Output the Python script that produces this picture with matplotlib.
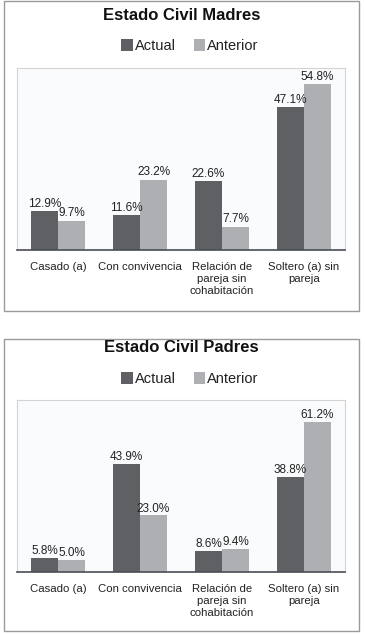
import matplotlib.pyplot as plt
from matplotlib.patches import Rectangle
import numpy as np

plt.rcParams['font.family'] = ['Liberation Sans', 'DejaVu Sans']

categorias = ['Casado (a)', 'Con convivencia', 'Relación de\npareja sin\ncohabitación',
              'Soltero (a) sin\npareja']
madres_actual = [12.9, 11.6, 22.6, 47.1]
madres_anterior = [9.7, 23.2, 7.7, 54.8]
padres_actual = [5.8, 43.9, 8.6, 38.8]
padres_anterior = [5.0, 23.0, 9.4, 61.2]

C_ACTUAL = '#5e6064'
C_ANTERIOR = '#adafb2'

W, H = 365, 634
fig = plt.figure(figsize=(W / 100, H / 100), dpi=100)


def px(x0, y0, x1, y1):
    # caja en pixeles (origen arriba-izquierda) -> fraccion de figura
    return [x0 / W, 1 - y1 / H, (x1 - x0) / W, (y1 - y0) / H]


def panel(box, plot, titulo, actual, anterior, ymax, title_y, leg_y):
    bx0, by0, bx1, by1 = box
    fig.patches.append(Rectangle((bx0 / W, 1 - by1 / H), (bx1 - bx0) / W, (by1 - by0) / H,
                                 transform=fig.transFigure, fill=False,
                                 edgecolor='#9a9a9a', linewidth=1.0))
    ax = fig.add_axes(px(*plot))
    ax.set_facecolor('#fafbfd')
    x = np.arange(len(categorias))
    w = 0.33
    b1 = ax.bar(x - w / 2, actual, w, color=C_ACTUAL, label='Actual')
    b2 = ax.bar(x + w / 2, anterior, w, color=C_ANTERIOR, label='Anterior')
    for bars in (b1, b2):
        for r in bars:
            ax.text(r.get_x() + r.get_width() / 2, r.get_height() + 0.4,
                    f'{r.get_height():.1f}%', ha='center', va='bottom',
                    fontsize=8.5, color='#222222')
    ax.set_xlim(-0.5, 3.5)
    ax.set_ylim(0, ymax)
    ax.set_yticks([])
    ax.set_xticks(x)
    ax.set_xticklabels(categorias, fontsize=8.2, color='#222222', linespacing=1.2)
    ax.tick_params(axis='x', length=0, pad=9)
    for s in ('top', 'left', 'right'):
        ax.spines[s].set_color('#d4d4d4')
        ax.spines[s].set_linewidth(0.8)
    ax.spines['bottom'].set_color('#4a4d55')
    ax.spines['bottom'].set_linewidth(1.2)
    cx = (bx0 + bx1) / 2 / W
    fig.text(cx, 1 - title_y / H, titulo, ha='center', va='center',
             fontsize=12, fontweight='bold', color='#111111')
    fig.legend(handles=[b1, b2], loc='center', bbox_to_anchor=(190 / W, 1 - leg_y / H),
               ncol=2, frameon=False, fontsize=10.5, handlelength=0.8,
               handleheight=0.8, handletextpad=0.15, columnspacing=1.2,
               labelcolor='#222222')
    return ax


panel((4, 1, 359, 311), (17, 68, 345, 250), 'Estado Civil Madres',
      madres_actual, madres_anterior, 60, 15, 46)
panel((4, 339, 359, 631), (17, 400, 345, 572), 'Estado Civil Padres',
      padres_actual, padres_anterior, 70, 348, 379)

fig.savefig('out.png', dpi=100)
